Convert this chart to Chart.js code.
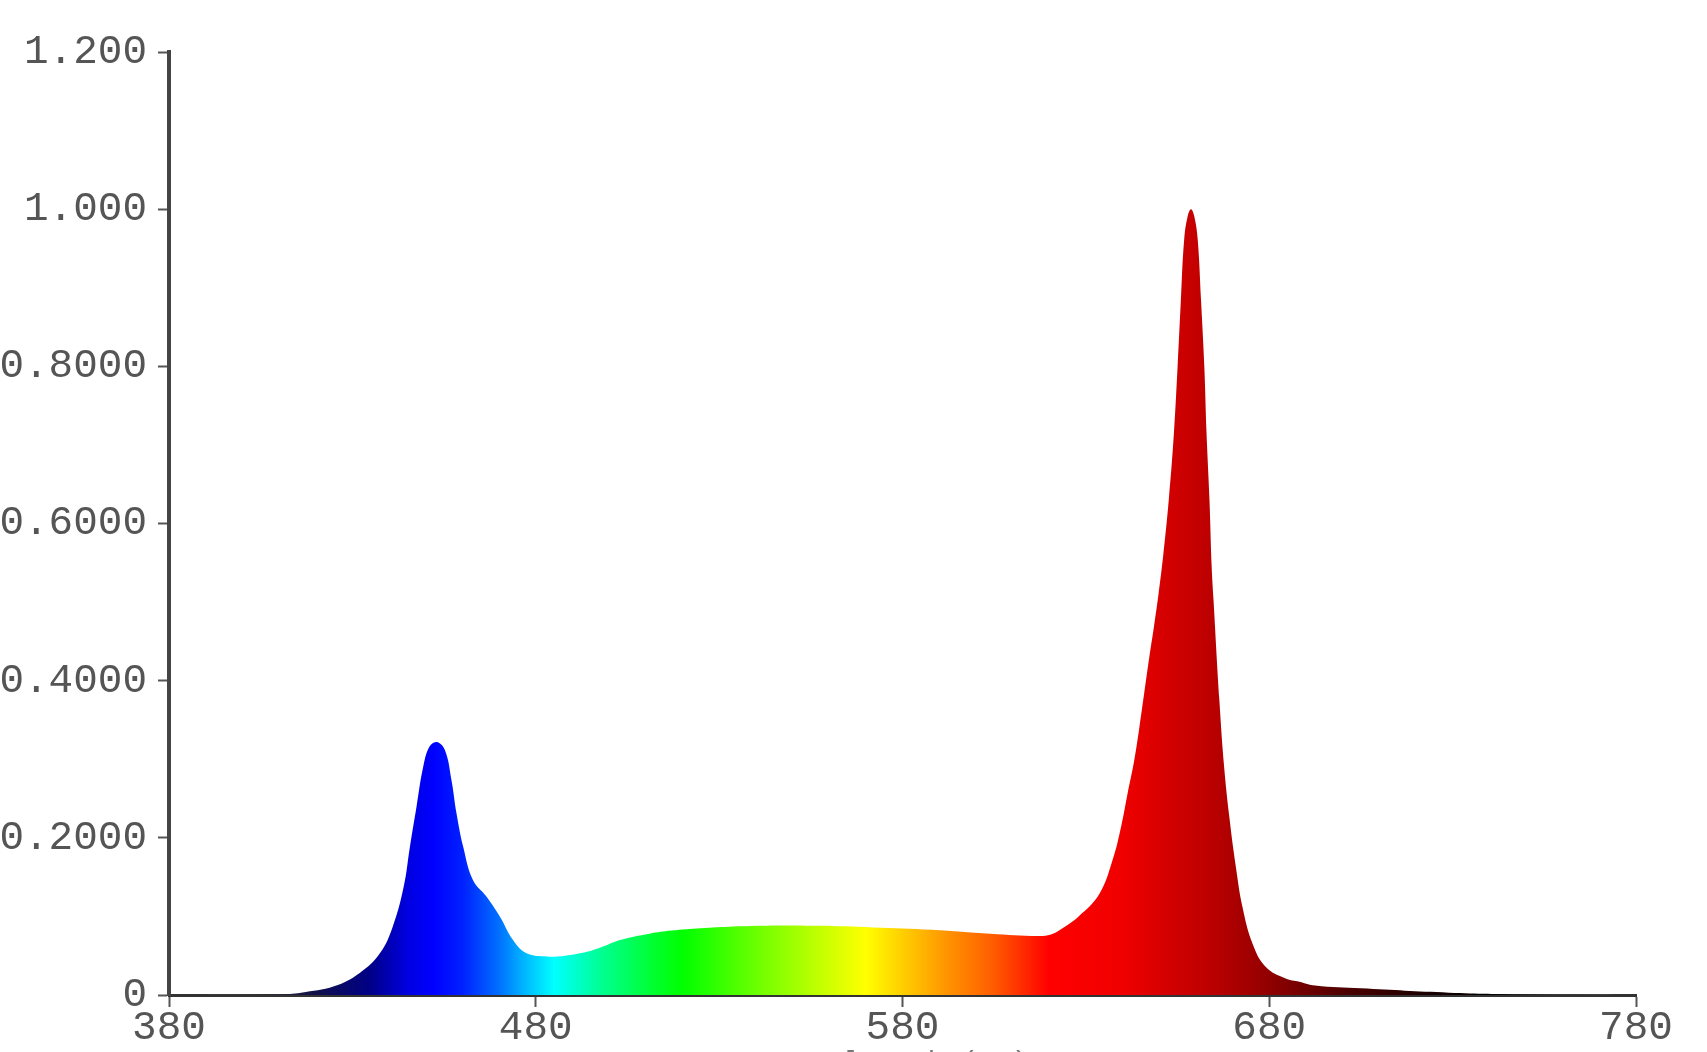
<!DOCTYPE html>
<html>
<head>
<meta charset="utf-8">
<script src="https://cdn.jsdelivr.net/npm/chart.js@4"></script>
<style>
  html, body { margin: 0; padding: 0; background: #fff; }
  #wrap { width: 1707px; height: 1052px; }
</style>
</head>
<body>
<div id="wrap"><canvas id="spectrum"></canvas></div>
<script>
// spectrum: wavelength (nm) -> relative intensity
const wavelengths = [380, 390, 400, 410, 416, 425, 432, 437.5, 441, 444, 445.7, 447.5, 449.3, 451, 453, 455.2, 457, 458.4, 460.2, 462.9,
  466.6, 470.2, 473.8, 477.5, 483, 488, 494, 498, 503, 511, 517, 525, 541, 557, 572, 588, 604, 617, 620.5, 623,
  628, 633.7, 637.3, 639.6, 641.4, 643.2, 644.6, 645.9, 647.3, 648.6, 649.8, 651.1, 652.6, 654, 655, 655.9, 656.8, 657.8, 658.7, 659.6,
  660.5, 661.4, 662.3, 662.9, 663.7, 664.3, 664.8, 666.4, 667.7, 669.1, 670.9, 672.7, 675.4, 679, 684.5, 688.2, 692.5, 705, 729, 750, 780];
const intensity = [0, 0, 0.0005, 0.001, 0.003, 0.011, 0.028, 0.053, 0.087, 0.138, 0.189, 0.240, 0.290, 0.316, 0.322, 0.312, 0.274, 0.231, 0.189, 0.146,
  0.125, 0.100, 0.070, 0.053, 0.049, 0.050, 0.055, 0.061, 0.070, 0.078, 0.082, 0.085, 0.088, 0.088, 0.086, 0.083, 0.078, 0.075, 0.077, 0.083,
  0.100, 0.129, 0.172, 0.214, 0.257, 0.299, 0.341, 0.384, 0.430, 0.470, 0.510, 0.560, 0.630, 0.715, 0.799, 0.884, 0.961, 0.992, 1.0, 0.990,
  0.961, 0.884, 0.799, 0.715, 0.630, 0.545, 0.503, 0.375, 0.290, 0.227, 0.163, 0.112, 0.066, 0.036, 0.021, 0.017, 0.012, 0.0085, 0.003, 0.001, 0];

const xTicks = [380, 480, 580, 680, 780];
const yTicks = [0, 0.2, 0.4, 0.6, 0.8, 1.0, 1.2];
const yTickLabels = ['0', '0.2000', '0.4000', '0.6000', '0.8000', '1.000', '1.200'];
const xTitle = 'Wavelength (nm)';

// fill colour along the wavelength axis
const spectrumStops = [
  [380, '#606060'], [405, '#303030'], [420, '#10104a'], [435, '#000088'], [445, '#0000e0'],
  [452, '#0000ff'], [460, '#0020ff'], [470, '#0070ff'], [477, '#00b8ff'], [485, '#00ffff'],
  [498, '#00ff90'], [512, '#00ff30'], [520, '#00ff00'], [541, '#70ff00'], [557, '#c0ff00'],
  [570, '#ffff00'], [583, '#ffc000'], [593, '#ff9000'], [604, '#ff6000'], [620, '#ff0000'],
  [640, '#f00000'], [652, '#d40000'], [662, '#c00000'], [675, '#a00000'], [685, '#800000'],
  [700, '#500000'], [720, '#200000'], [740, '#000000'], [765, '#555555'], [780, '#999999']
];

let gradCache = null, gradKey = '';
function spectrumFill(context) {
  const chart = context.chart;
  const area = chart.chartArea;
  if (!area) return '#0000ff';
  const x = chart.scales.x;
  const x0 = x.getPixelForValue(380), x1 = x.getPixelForValue(780);
  const key = x0 + ':' + x1;
  if (gradCache && gradKey === key) return gradCache;
  const g = chart.ctx.createLinearGradient(x0, 0, x1, 0);
  spectrumStops.forEach(s => g.addColorStop((s[0] - 380) / 400, s[1]));
  gradCache = g; gradKey = key;
  return g;
}

const tickFont = { family: '"Liberation Mono", "DejaVu Sans Mono", monospace', size: 41 };

new Chart(document.getElementById('spectrum'), {
  type: 'line',
  data: {
    datasets: [{
      data: wavelengths.map((w, i) => ({ x: w, y: intensity[i] })),
      fill: 'origin',
      backgroundColor: spectrumFill,
      borderColor: 'transparent',
      borderWidth: 0,
      pointRadius: 0,
      tension: 0.4
    }]
  },
  options: {
    responsive: true,
    maintainAspectRatio: false,
    animation: false,
    layout: { padding: { top: 52, right: 71, bottom: 0, left: 0 } },
    plugins: { legend: { display: false }, tooltip: { enabled: false } },
    scales: {
      x: {
        type: 'linear',
        min: 380, max: 780,
        afterBuildTicks: s => { s.ticks = xTicks.map(v => ({ value: v })); },
        afterFit: s => { s.height = 57; },
        border: { color: '#333', width: 3 },
        grid: { drawOnChartArea: false, tickLength: 12, tickColor: '#555', tickWidth: 2 },
        ticks: { color: '#555', font: Object.assign({ lineHeight: 1 }, tickFont), padding: 1, maxRotation: 0 },
        title: {
          display: true, text: xTitle, color: '#777',
          font: { family: tickFont.family, size: 28 },
          padding: { top: 0, bottom: -27 }
        }
      },
      y: {
        min: 0, max: 1.2,
        afterBuildTicks: s => { s.ticks = yTicks.map(v => ({ value: v })); },
        afterFit: s => { s.width = 169; },
        border: { color: '#444', width: 4 },
        grid: { drawOnChartArea: false, tickLength: 11, tickColor: '#555', tickWidth: 2 },
        ticks: {
          color: '#555', font: tickFont, padding: 11,
          callback: (v) => yTickLabels[Math.round(v / 0.2)]
        }
      }
    }
  }
});
</script>
</body>
</html>
